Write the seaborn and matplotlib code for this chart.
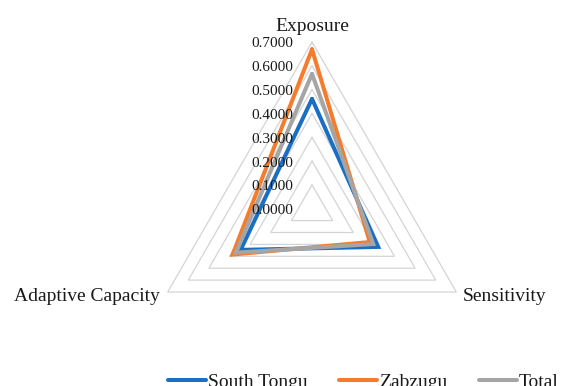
import numpy as np
import pandas as pd
import matplotlib
matplotlib.use("Agg")
import matplotlib.pyplot as plt
import seaborn as sns

# Vulnerability components (radar axes, clockwise from top)
categories = ["Exposure", "Sensitivity", "Adaptive Capacity"]
regions = ["South Tongu", "Zabzugu", "Total"]
south_tongu = [0.461, 0.321, 0.346]
zabzugu = [0.669, 0.280, 0.385]
total = [0.566, 0.297, 0.369]
levels = [0.0, 0.1, 0.2, 0.3, 0.4, 0.5, 0.6, 0.7]
colors = ["#1A6FC4", "#F47C2C", "#A5A5A5"]

sns.set_theme(style="white")
plt.rcParams["font.family"] = ["Liberation Serif", "DejaVu Serif"]
plt.rcParams["lines.solid_joinstyle"] = "miter"

n = len(categories)
angles = [2 * np.pi * i / n for i in range(n)]
angles_closed = angles + [angles[0]]

rows = []
for name, vals in zip(regions, [south_tongu, zabzugu, total]):
    for th, v in zip(angles_closed, vals + [vals[0]]):
        rows.append({"theta": th, "value": v, "Region": name})
df = pd.DataFrame(rows)

fig = plt.figure(figsize=(5.71, 3.86), dpi=100)
ax = fig.add_axes([0.2545, 0.0275, 0.5839, 0.8637], projection="polar")
ax.set_theta_zero_location("N")
ax.set_theta_direction(-1)
ax.set_ylim(0, levels[-1])
ax.grid(False)
ax.set_xticks([])
ax.set_yticks([])
ax.spines["polar"].set_visible(False)
ax.patch.set_visible(False)

# Triangular gridlines
for lv in levels[1:]:
    ax.plot(angles_closed, [lv] * len(angles_closed), color="#D4D4D4",
            lw=0.9, zorder=1, clip_on=False)

sns.lineplot(data=df, x="theta", y="value", hue="Region", hue_order=regions,
             palette=colors, sort=False, estimator=None, lw=2.9,
             ax=ax, legend=False, zorder=3)
for line in ax.get_lines():
    line.set_clip_on(False)
ax.set_xlabel("")
ax.set_ylabel("")

# Radial value labels along the Exposure axis
for lv in levels:
    ax.annotate(f"{lv:.4f}", xy=(0, lv), xytext=(-19, -2),
                textcoords="offset pixels", ha="right", va="center",
                fontsize=11, color="#1a1a1a", annotation_clip=False)

# Category labels
offsets = [((0, 11), "center"), ((6, -9), "left"), ((-8, -9), "right")]
for th, cat, (off, ha) in zip(angles, categories, offsets):
    ax.annotate(cat, xy=(th, levels[-1]), xytext=off, textcoords="offset pixels",
                ha=ha, va="baseline", fontsize=14, color="#1a1a1a",
                annotation_clip=False)

handles = [plt.Line2D([], [], color=c, lw=2.9) for c in colors]
leg = fig.legend(handles, regions, loc="center", bbox_to_anchor=(0.6366, 0.011),
                 ncol=3, frameon=False, fontsize=14, handlelength=1.95,
                 handletextpad=0.12, columnspacing=1.6, borderpad=0)
for t in leg.get_texts():
    t.set_color("#1a1a1a")

fig.savefig("out.png", dpi=100)
